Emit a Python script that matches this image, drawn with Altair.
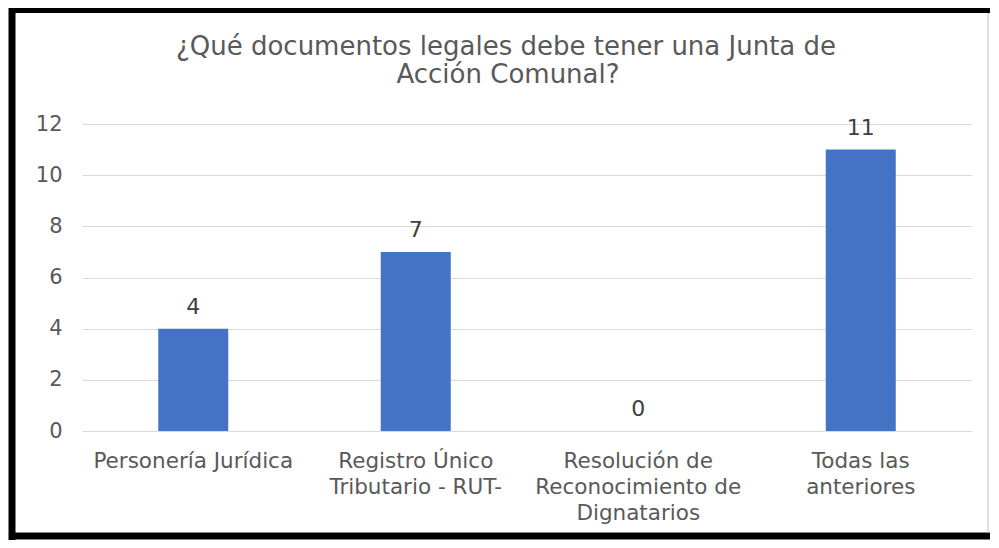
import altair as alt
import pandas as pd

categorias = [
    "Personería Jurídica",
    "Registro Único|Tributario - RUT-",
    "Resolución de|Reconocimiento de|Dignatarios",
    "Todas las|anteriores",
]
valores = [4, 7, 0, 11]
ticks_y = [0, 2, 4, 6, 8, 10, 12]
titulo = ["¿Qué documentos legales debe tener una Junta de", "Acción Comunal?"]

df = pd.DataFrame({"categoria": categorias, "valor": valores})

FONT = "DejaVu Sans"
W, H = 890, 307

base = alt.Chart(df).encode(
    x=alt.X(
        "categoria:N",
        sort=None,
        title=None,
        scale=alt.Scale(paddingInner=0.0, paddingOuter=0.0),
        axis=alt.Axis(
            labelAngle=0,
            labelExpr="split(datum.label, '|')",
            labelFontSize=21.5,
            labelFont=FONT,
            labelColor="#595959",
            labelLimit=0,
            labelPadding=19,
            labelLineHeight=26,
            domain=False,
            ticks=False,
            grid=False,
        ),
    ),
    y=alt.Y(
        "valor:Q",
        title=None,
        scale=alt.Scale(domain=[0, 12], nice=False),
        axis=alt.Axis(
            values=ticks_y,
            labelFontSize=21,
            labelFont=FONT,
            labelColor="#595959",
            labelPadding=20,
            domain=False,
            ticks=False,
            grid=True,
            gridColor="#D9D9D9",
            gridWidth=1.2,
        ),
    ),
)

bars = base.mark_bar(color="#4472C4", size=70)
labels = base.mark_text(
    baseline="alphabetic", dy=-15, fontSize=22, font=FONT, color="#404040"
).encode(text="valor:Q")

frame_df = pd.DataFrame({"k": [0]})
fr = alt.Chart(frame_df)

title_l1 = fr.mark_text(
    fontSize=26, font=FONT, color="#595959", baseline="alphabetic", align="center"
).encode(text=alt.value(titulo[0]), x=alt.value(424), y=alt.value(-69))
title_l2 = fr.mark_text(
    fontSize=26, font=FONT, color="#595959", baseline="alphabetic", align="center"
).encode(text=alt.value(titulo[1]), x=alt.value(426), y=alt.value(-41))

left = fr.mark_rule(color="black", strokeWidth=7).encode(
    x=alt.value(-70), y=alt.value(-119), y2=alt.value(416)
)
top = fr.mark_rule(color="black", strokeWidth=8).encode(
    x=alt.value(-73), x2=alt.value(908), y=alt.value(-115)
)
bottom = fr.mark_rule(color="black", strokeWidth=7).encode(
    x=alt.value(-73), x2=alt.value(908), y=alt.value(412)
)
right = fr.mark_rule(color="#BFBFBF", strokeWidth=1).encode(
    x=alt.value(906), y=alt.value(-111), y2=alt.value(409)
)

chart = (
    alt.layer(bars, labels, title_l1, title_l2, left, top, bottom, right)
    .properties(
        width=W,
        height=H,
        autosize=alt.AutoSizeParams(type="none"),
        padding={"left": 74, "top": 116, "right": 18, "bottom": 109},
        background="white",
    )
    .configure_view(stroke=None)
)

chart.save("out.html", embed_options={"renderer": "svg", "actions": False})
